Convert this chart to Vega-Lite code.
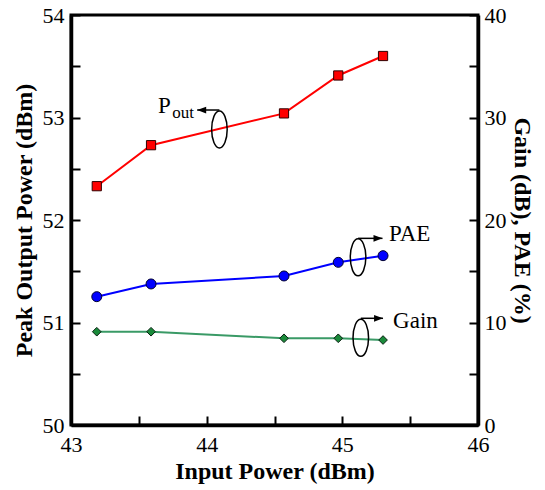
{
  "$schema": "https://vega.github.io/schema/vega-lite/v6.json",
  "autosize": "none",
  "width": 407,
  "height": 410,
  "padding": {"left": 71, "top": 15, "right": 67, "bottom": 65},
  "background": "white",
  "config": {
    "font": "Liberation Serif",
    "view": {"stroke": "black", "strokeWidth": 3, "fill": "transparent"}
  },
  "data": {
    "values": [
      {"kind": "line", "series": "Pout", "x": 43.19, "y": 52.33},
      {"kind": "line", "series": "Pout", "x": 43.59, "y": 52.73},
      {"kind": "line", "series": "Pout", "x": 44.57, "y": 53.04},
      {"kind": "line", "series": "Pout", "x": 44.97, "y": 53.41},
      {"kind": "line", "series": "Pout", "x": 45.30, "y": 53.60},
      {"kind": "line", "series": "PAE", "x": 43.19, "y": 12.52},
      {"kind": "line", "series": "PAE", "x": 43.59, "y": 13.76},
      {"kind": "line", "series": "PAE", "x": 44.57, "y": 14.54},
      {"kind": "line", "series": "PAE", "x": 44.97, "y": 15.87},
      {"kind": "line", "series": "PAE", "x": 45.30, "y": 16.52},
      {"kind": "line", "series": "Gain", "x": 43.19, "y": 9.10},
      {"kind": "line", "series": "Gain", "x": 43.59, "y": 9.10},
      {"kind": "line", "series": "Gain", "x": 44.57, "y": 8.46},
      {"kind": "line", "series": "Gain", "x": 44.97, "y": 8.46},
      {"kind": "line", "series": "Gain", "x": 45.30, "y": 8.29},
      {"kind": "ellipse", "series": "Pout", "x": 44.094, "y": 52.883},
      {"kind": "ellipse", "series": "PAE", "x": 45.116, "y": 16.36},
      {"kind": "ellipse", "series": "Gain", "x": 45.136, "y": 8.51},
      {"kind": "arrow", "series": "Pout", "x": 43.93, "x2": 44.094, "y": 53.073},
      {"kind": "arrow", "series": "PAE", "x": 45.296, "x2": 45.116, "y": 18.21},
      {"kind": "arrow", "series": "Gain", "x": 45.30, "x2": 45.136, "y": 10.41},
      {"kind": "text", "series": "Pout", "label": "P", "x": 43.641, "y": 53.047},
      {"kind": "sub", "series": "Pout", "label": "out", "x": 43.746, "y": 52.992},
      {"kind": "text", "series": "PAE", "label": "PAE", "x": 45.344, "y": 17.98},
      {"kind": "text", "series": "Gain", "label": "Gain", "x": 45.374, "y": 9.43}
    ]
  },
  "encoding": {
    "x": {
      "field": "x",
      "type": "quantitative",
      "scale": {"domain": [43, 46], "nice": false, "zero": false},
      "axis": {
        "orient": "bottom",
        "title": "Input Power (dBm)",
        "grid": false,
        "domain": true,
        "domainColor": "black",
        "domainWidth": 3.5,
        "ticks": true,
        "tickColor": "#000000",
        "tickOpacity": 1,
        "tickWidth": 2,
        "tickSize": -9,
        "tickDash": [],
        "tickCap": "butt",
        "zindex": 2,
        "values": [43, 43.5, 44, 44.5, 45, 45.5, 46],
        "labelExpr": "datum.value % 1 === 0 ? format(datum.value, 'd') : ''",
        "labelFont": "Liberation Serif",
        "labelFontSize": 22,
        "labelColor": "black",
        "labelFlush": false,
        "labelOverlap": false,
        "labelPadding": 18,
        "titleFont": "Liberation Serif",
        "titleFontSize": 24,
        "titleFontWeight": "bold",
        "titleColor": "black",
        "titlePadding": 4
      }
    }
  },
  "layer": [
    {
      "transform": [{"filter": "datum.series === 'Pout'"}],
      "encoding": {
        "y": {
          "field": "y",
          "type": "quantitative",
          "scale": {"domain": [50, 54], "nice": false, "zero": false},
          "axis": {
            "orient": "left",
            "title": "Peak Output Power (dBm)",
            "grid": false,
            "domain": true,
            "domainColor": "black",
            "domainWidth": 3.5,
            "ticks": true,
            "tickColor": "#000000",
            "tickOpacity": 1,
            "tickWidth": 2,
            "tickSize": -9,
            "tickDash": [],
            "tickCap": "butt",
            "zindex": 2,
            "values": [50, 50.5, 51, 51.5, 52, 52.5, 53, 53.5, 54],
            "labelExpr": "datum.value % 1 === 0 ? format(datum.value, 'd') : ''",
            "labelFont": "Liberation Serif",
            "labelFontSize": 22,
            "labelColor": "black",
            "labelFlush": false,
            "labelOverlap": false,
            "labelPadding": 16,
            "titleFont": "Liberation Serif",
            "titleFontSize": 24,
            "titleFontWeight": "bold",
            "titleColor": "black",
            "titlePadding": 6
          }
        }
      },
      "layer": [
        {
          "transform": [{"filter": "datum.kind === 'line'"}],
          "mark": {"type": "line", "color": "#ff0000", "strokeWidth": 2}
        },
        {
          "transform": [{"filter": "datum.kind === 'line'"}],
          "mark": {"type": "point", "shape": "square", "filled": true, "fill": "#ff0000", "stroke": "#300000", "strokeWidth": 1, "size": 85, "opacity": 1}
        },
        {
          "transform": [{"filter": "datum.kind === 'ellipse'"}],
          "mark": {"type": "point", "shape": "M0,-1A0.42,1 0 1,1 0,1A0.42,1 0 1,1 0,-1Z", "filled": false, "stroke": "black", "strokeWidth": 1.5, "size": 1369, "opacity": 1}
        },
        {
          "transform": [{"filter": "datum.kind === 'arrow'"}],
          "mark": {"type": "rule", "color": "black", "strokeWidth": 1.5},
          "encoding": {"x2": {"field": "x2"}}
        },
        {
          "transform": [{"filter": "datum.kind === 'arrow'"}],
          "mark": {"type": "point", "shape": "M0,0L2,-0.75L2,0.75Z", "filled": true, "fill": "black", "strokeWidth": 0, "size": 81, "opacity": 1}
        },
        {
          "transform": [{"filter": "datum.kind === 'text'"}],
          "mark": {"type": "text", "align": "left", "baseline": "alphabetic", "font": "Liberation Serif", "fontSize": 23, "color": "black"},
          "encoding": {"text": {"field": "label"}}
        },
        {
          "transform": [{"filter": "datum.kind === 'sub'"}],
          "mark": {"type": "text", "align": "left", "baseline": "alphabetic", "font": "Liberation Serif", "fontSize": 17, "color": "black"},
          "encoding": {"text": {"field": "label"}}
        }
      ]
    },
    {
      "transform": [{"filter": "datum.series !== 'Pout'"}],
      "encoding": {
        "y": {
          "field": "y",
          "type": "quantitative",
          "scale": {"domain": [0, 40], "nice": false},
          "axis": {
            "orient": "right",
            "title": "Gain (dB), PAE (%)",
            "grid": false,
            "domain": true,
            "domainColor": "black",
            "domainWidth": 3.5,
            "ticks": true,
            "tickColor": "#000000",
            "tickOpacity": 1,
            "tickWidth": 2,
            "tickSize": -9,
            "tickDash": [],
            "tickCap": "butt",
            "zindex": 2,
            "values": [0, 5, 10, 15, 20, 25, 30, 35, 40],
            "labelExpr": "datum.value % 10 === 0 ? format(datum.value, 'd') : ''",
            "labelFont": "Liberation Serif",
            "labelFontSize": 22,
            "labelColor": "black",
            "labelFlush": false,
            "labelOverlap": false,
            "labelPadding": 15,
            "titleFont": "Liberation Serif",
            "titleFontSize": 24,
            "titleFontWeight": "bold",
            "titleColor": "black",
            "titlePadding": 3
          }
        }
      },
      "layer": [
        {
          "transform": [{"filter": "datum.kind === 'line'"}],
          "mark": {"type": "line", "strokeWidth": 2},
          "encoding": {
            "color": {"field": "series", "type": "nominal", "scale": {"domain": ["PAE", "Gain"], "range": ["#0000ff", "#3a9a66"]}, "legend": null}
          }
        },
        {
          "transform": [{"filter": "datum.kind === 'line' && datum.series === 'PAE'"}],
          "mark": {"type": "point", "shape": "circle", "filled": true, "fill": "#0000ff", "stroke": "#000030", "strokeWidth": 1, "size": 100, "opacity": 1}
        },
        {
          "transform": [{"filter": "datum.kind === 'line' && datum.series === 'Gain'"}],
          "mark": {"type": "point", "shape": "diamond", "filled": true, "fill": "#1a8a3a", "stroke": "#062010", "strokeWidth": 1, "size": 75, "opacity": 1}
        },
        {
          "transform": [{"filter": "datum.kind === 'ellipse'"}],
          "mark": {"type": "point", "shape": "M0,-1A0.42,1 0 1,1 0,1A0.42,1 0 1,1 0,-1Z", "filled": false, "stroke": "black", "strokeWidth": 1.5, "size": 1369, "opacity": 1}
        },
        {
          "transform": [{"filter": "datum.kind === 'arrow'"}],
          "mark": {"type": "rule", "color": "black", "strokeWidth": 1.5},
          "encoding": {"x2": {"field": "x2"}}
        },
        {
          "transform": [{"filter": "datum.kind === 'arrow'"}],
          "mark": {"type": "point", "shape": "M0,0L-2,-0.75L-2,0.75Z", "filled": true, "fill": "black", "strokeWidth": 0, "size": 81, "opacity": 1}
        },
        {
          "transform": [{"filter": "datum.kind === 'text'"}],
          "mark": {"type": "text", "align": "left", "baseline": "alphabetic", "font": "Liberation Serif", "fontSize": 23, "color": "black"},
          "encoding": {"text": {"field": "label"}}
        }
      ]
    }
  ],
  "resolve": {"scale": {"y": "independent"}}
}
